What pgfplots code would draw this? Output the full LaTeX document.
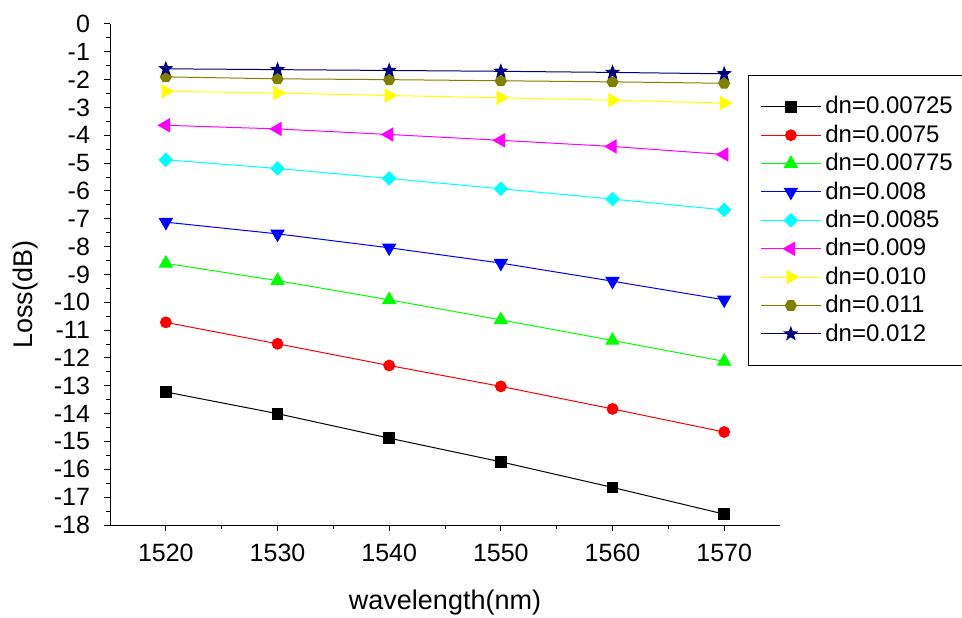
\documentclass[border=0pt]{standalone}
\usepackage{fontspec}
\setmainfont{Liberation Sans}
\usepackage{pgfplots}
\pgfplotsset{compat=1.18}
\usetikzlibrary{plotmarks}

\definecolor{cgreen}{RGB}{0,255,0}
\definecolor{ccyan}{RGB}{0,255,255}
\definecolor{cmag}{RGB}{255,0,255}
\definecolor{cyel}{RGB}{255,255,0}
\definecolor{colive}{RGB}{128,128,0}
\definecolor{cnavy}{RGB}{0,0,128}

% extra marks
\pgfdeclareplotmark{hexa}{%
  \pgfpathmoveto{\pgfpointpolar{0}{\pgfplotmarksize}}%
  \pgfpathlineto{\pgfpointpolar{60}{\pgfplotmarksize}}%
  \pgfpathlineto{\pgfpointpolar{120}{\pgfplotmarksize}}%
  \pgfpathlineto{\pgfpointpolar{180}{\pgfplotmarksize}}%
  \pgfpathlineto{\pgfpointpolar{240}{\pgfplotmarksize}}%
  \pgfpathlineto{\pgfpointpolar{300}{\pgfplotmarksize}}%
  \pgfpathclose\pgfusepathqfillstroke}
\pgfdeclareplotmark{fstar}{%
  \pgfpathmoveto{\pgfpointpolar{90}{\pgfplotmarksize}}%
  \pgfpathlineto{\pgfpointpolar{126}{0.42\pgfplotmarksize}}%
  \pgfpathlineto{\pgfpointpolar{162}{\pgfplotmarksize}}%
  \pgfpathlineto{\pgfpointpolar{198}{0.42\pgfplotmarksize}}%
  \pgfpathlineto{\pgfpointpolar{234}{\pgfplotmarksize}}%
  \pgfpathlineto{\pgfpointpolar{270}{0.42\pgfplotmarksize}}%
  \pgfpathlineto{\pgfpointpolar{306}{\pgfplotmarksize}}%
  \pgfpathlineto{\pgfpointpolar{342}{0.42\pgfplotmarksize}}%
  \pgfpathlineto{\pgfpointpolar{18}{\pgfplotmarksize}}%
  \pgfpathlineto{\pgfpointpolar{54}{0.42\pgfplotmarksize}}%
  \pgfpathclose\pgfusepathqfillstroke}
\pgfdeclareplotmark{rdiam}{%
  \pgfpathmoveto{\pgfqpoint{0pt}{\pgfplotmarksize}}%
  \pgfpathlineto{\pgfqpoint{\pgfplotmarksize}{0pt}}%
  \pgfpathlineto{\pgfqpoint{0pt}{-\pgfplotmarksize}}%
  \pgfpathlineto{\pgfqpoint{-\pgfplotmarksize}{0pt}}%
  \pgfpathclose\pgfusepathqfillstroke}

\begin{document}
\begin{tikzpicture}
\begin{axis}[
  scale only axis, width=335pt, height=250.5pt,
  xmin=1515, xmax=1575, ymin=-18, ymax=0,
  xtick={1520,1530,...,1570}, ytick={-18,-17,...,0},
  minor x tick num=1, minor y tick num=1,
  axis lines*=left, tick align=outside,
  major tick length=3pt, minor tick length=1.8pt,
  axis line style={line width=0.5pt}, tick style={black, line width=0.5pt},
  /pgf/number format/assume math mode=true,
  /pgf/number format/1000 sep={},
  tick label style={font=\fontsize{12.5}{14}\selectfont},
  xticklabel style={yshift=-3pt},
  yticklabel style={xshift=-3.5pt},
  label style={font=\fontsize{13.5}{16}\selectfont},
  xlabel={wavelength(nm)},
  xlabel style={at={(rel axis cs:0.5,-0.128)}, anchor=north, inner sep=0pt},
  ylabel={Loss(dB)},
  ylabel style={at={(rel axis cs:-0.145,0.46)}, anchor=north, rotate=0, inner sep=0pt},
  every axis plot/.append style={line width=0.5pt},
  legend cell align=left,
  legend style={at={(rel axis cs:0.952,0.898)}, anchor=north west, draw=black,
    line width=0.5pt, inner xsep=6pt, inner ysep=8.5pt,
    font=\fontsize{12}{14}\selectfont},
  legend image code/.code={\draw[mark repeat=2,mark phase=2,#1] plot coordinates {(0pt,0pt) (15pt,0pt) (30pt,0pt)};},
]
\addplot[black, mark=square*, mark size=2.7pt, mark options={fill=black}] coordinates {
  (1520,-13.22) (1530,-14.00) (1540,-14.88) (1550,-15.73) (1560,-16.65) (1570,-17.61)};
\addlegendentry{dn=0.00725}
\addplot[red, mark=*, mark size=2.7pt, mark options={fill=red}] coordinates {
  (1520,-10.72) (1530,-11.49) (1540,-12.27) (1550,-13.02) (1560,-13.83) (1570,-14.66)};
\addlegendentry{dn=0.0075}
\addplot[cgreen, mark=triangle*, mark size=3.7pt, mark options={fill=cgreen}] coordinates {
  (1520,-8.60) (1530,-9.22) (1540,-9.91) (1550,-10.63) (1560,-11.37) (1570,-12.12)};
\addlegendentry{dn=0.00775}
\addplot[blue, mark=triangle*, mark size=3.7pt, mark options={fill=blue, rotate=180}] coordinates {
  (1520,-7.12) (1530,-7.54) (1540,-8.04) (1550,-8.59) (1560,-9.24) (1570,-9.91)};
\addlegendentry{dn=0.008}
\addplot[ccyan, mark=rdiam, mark size=3.3pt, mark options={fill=ccyan}] coordinates {
  (1520,-4.88) (1530,-5.19) (1540,-5.55) (1550,-5.92) (1560,-6.29) (1570,-6.68)};
\addlegendentry{dn=0.0085}
\addplot[cmag, mark=triangle*, mark size=3.7pt, mark options={fill=cmag, rotate=90}] coordinates {
  (1520,-3.64) (1530,-3.77) (1540,-3.97) (1550,-4.18) (1560,-4.40) (1570,-4.69)};
\addlegendentry{dn=0.009}
\addplot[cyel, mark=triangle*, mark size=3.7pt, mark options={fill=cyel, rotate=-90}] coordinates {
  (1520,-2.42) (1530,-2.48) (1540,-2.57) (1550,-2.65) (1560,-2.74) (1570,-2.84)};
\addlegendentry{dn=0.010}
\addplot[colive, mark=hexa, mark size=2.8pt, mark options={fill=colive}] coordinates {
  (1520,-1.90) (1530,-1.97) (1540,-2.00) (1550,-2.04) (1560,-2.08) (1570,-2.13)};
\addlegendentry{dn=0.011}
\addplot[cnavy, mark=fstar, mark size=3.3pt, mark options={fill=cnavy}] coordinates {
  (1520,-1.61) (1530,-1.64) (1540,-1.67) (1550,-1.70) (1560,-1.74) (1570,-1.79)};
\addlegendentry{dn=0.012}
\coordinate (bbl) at (rel axis cs:-0.1642,-0.1856);
\coordinate (bur) at (rel axis cs:1.2716,1.0479);
\end{axis}
\pgfresetboundingbox
\path[use as bounding box] (bbl) rectangle (bur);
\end{tikzpicture}
\end{document}
